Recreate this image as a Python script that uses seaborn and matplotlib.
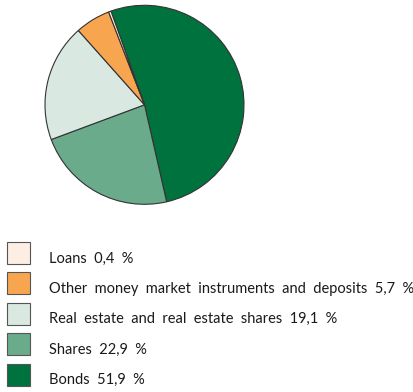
import matplotlib
matplotlib.use("Agg")
import matplotlib.pyplot as plt
from matplotlib.patches import Rectangle
import seaborn as sns

sns.set_theme(style="white")
plt.rcParams['font.family'] = ['Lato', 'DejaVu Sans']

categories = ["Bonds", "Shares", "Real estate and real estate shares",
              "Other money market instruments and deposits", "Loans"]
values = [51.9, 22.9, 19.1, 5.7, 0.4]
value_labels = ["51,9", "22,9", "19,1", "5,7", "0,4"]
colors = ["#00723e", "#6aab8b", "#d9e8e1", "#f7a64f", "#fdeee3"]

W, H = 414, 392
fig = plt.figure(figsize=(W / 100, H / 100), dpi=100)
fig.patch.set_facecolor("white")

cx, cy, r = 144.5, 104.8, 99.5
ax = fig.add_axes([(cx - r) / W, 1 - (cy + r) / H, 2 * r / W, 2 * r / H])
ax.pie(values, colors=colors, startangle=109.7, counterclock=False,
       wedgeprops=dict(edgecolor="#333333", linewidth=0.8), radius=1)
ax.set_xlim(-1.0, 1.0)
ax.set_ylim(-1.0, 1.0)
ax.set_axis_off()

# legend (Loans at top, Bonds at bottom)
top0, step = 242, 30.4
sp = "\u2002"
for i, idx in enumerate(range(len(categories) - 1, -1, -1)):
    top = top0 + i * step
    rect = Rectangle((7 / W, 1 - (top + 22) / H), 23 / W, 22 / H,
                     transform=fig.transFigure, facecolor=colors[idx],
                     edgecolor="#555555", linewidth=0.8)
    fig.patches.append(rect)
    label = f"{categories[idx]} {value_labels[idx]} %".replace(" ", sp)
    fig.text(49 / W, 1 - (top + 16.5) / H, label,
             fontsize=10.5, color="#1a1a1a", va="center", ha="left")

fig.savefig("out.png", dpi=100, facecolor="white")
